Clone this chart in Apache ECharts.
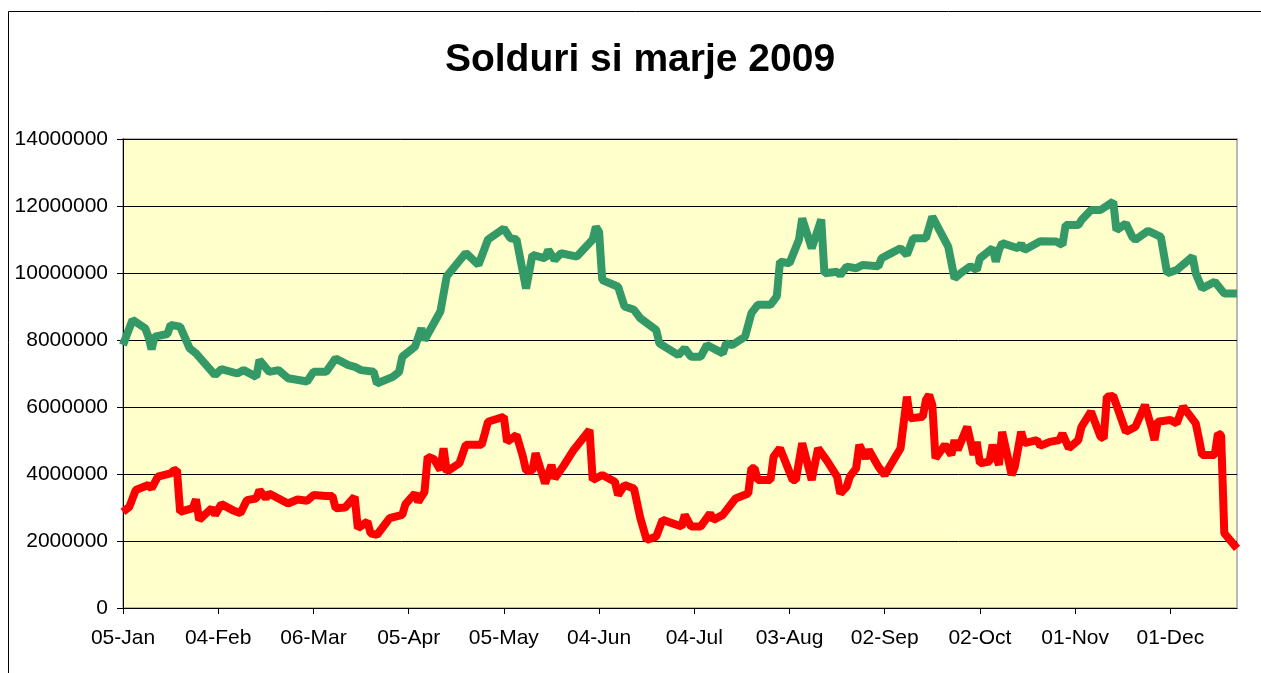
<!DOCTYPE html>
<html>
<head>
<meta charset="utf-8">
<title>Solduri si marje 2009</title>
<script src="https://cdn.jsdelivr.net/npm/echarts@6/dist/echarts.min.js"></script>
<style>
	html, body { margin: 0; padding: 0; background: #fff; }
	#chart { width: 1261px; height: 673px; }
</style>
</head>
<body>
<div id="chart"></div>
<script>
// zilele sunt numarate de la 05-Jan-2009
var startDate = Date.UTC(2009, 0, 5);
var lastDay = 351;
var tickDays = [0, 30, 60, 90, 120, 150, 180, 210, 240, 270, 300, 330];
var yTicks = [0, 2000000, 4000000, 6000000, 8000000, 10000000, 12000000, 14000000];

// solduri (verde)
var greenDays = [0, 3, 7, 8, 9, 10, 14, 15, 18, 21, 23, 29, 31, 36, 38, 42, 43, 46, 49, 52, 58, 60, 64, 67, 71, 73, 75, 79, 80, 85, 87, 88,
	92, 94, 95, 100, 102, 108, 112, 115, 120, 122, 124, 127, 129, 133, 134, 136, 138, 143, 148, 149, 150, 151, 156, 158, 161, 163, 168, 169,
	175, 177, 179, 182, 184, 189, 190, 192, 196, 198, 200, 204, 206, 207, 210, 213, 214, 217, 220, 221, 225, 226, 228, 231, 233, 238, 239,
	241, 245, 247, 249, 253, 255, 260, 262, 264, 267, 269, 270, 274, 275, 276, 277, 282, 283, 284, 289, 294, 296, 297, 301, 302, 305, 308,
	312, 313, 316, 318, 319, 323, 327, 329, 332, 337, 338, 340, 344, 347, 351];
var greenVals = [7.85, 8.6, 8.35, 8.1, 7.72, 8.1, 8.18, 8.45, 8.4, 7.75, 7.6, 6.95, 7.13, 7.0, 7.1, 6.9, 7.4, 7.05, 7.1, 6.86, 6.76, 7.05, 7.05, 7.45, 7.25, 7.2, 7.1, 7.05, 6.7, 6.9, 7.05, 7.5,
	7.8, 8.35, 8.0, 8.85, 9.9, 10.6, 10.24, 11.0, 11.33, 11.04, 11.0, 9.54, 10.54, 10.44, 10.69, 10.39, 10.59, 10.49, 11.0, 11.38, 11.23, 9.79, 9.59, 9.0, 8.9, 8.65, 8.3, 7.9,
	7.55, 7.75, 7.5, 7.5, 7.85, 7.6, 7.9, 7.85, 8.1, 8.8, 9.05, 9.05, 9.3, 10.34, 10.29, 11.0, 11.63, 10.74, 11.6, 9.99, 10.04, 9.94, 10.19, 10.14, 10.24, 10.2, 10.44,
	10.54, 10.74, 10.54, 11.04, 11.04, 11.68, 10.79, 9.84, 10.0, 10.2, 10.09, 10.44, 10.74, 10.34, 10.69, 10.89, 10.74, 10.87, 10.69, 10.95, 10.94, 10.84, 11.43, 11.43, 11.58, 11.88, 11.88,
	12.13, 11.28, 11.48, 11.08, 10.99, 11.26, 11.08, 9.99, 10.09, 10.49, 9.99, 9.54, 9.74, 9.39, 9.39];

// marje (rosu)
var redDays = [0, 2, 4, 8, 9, 11, 15, 16, 17, 18, 22, 23, 24, 28, 29, 31, 35, 37, 39, 42, 43, 45, 46, 52, 55, 58, 60, 64, 66, 67, 70, 73, 74, 77, 78, 80, 84, 88, 89,
	92, 93, 95, 96, 98, 100, 101, 102, 106, 108, 113, 114, 115, 120, 121, 124, 126, 127, 129, 130, 133, 135, 136, 139, 142, 147, 148, 151, 155, 156, 158, 161, 163, 165, 168, 170,
	176, 177, 179, 182, 185, 186, 189, 193, 197, 198, 199, 200, 204, 205, 207, 211, 212, 214, 217, 219, 222, 225, 226, 228, 229, 231, 232, 234, 235, 238, 240, 245, 247, 248,
	252, 253, 254, 255, 256, 259, 261, 262, 263, 266, 268, 269, 270, 273, 274, 276, 277, 280, 281, 283, 284, 288, 289, 292, 295, 296, 298, 301, 302, 305, 308, 309, 310, 312,
	316, 319, 322, 324, 325, 326, 330, 332, 334, 338, 339, 340, 344, 345, 346, 347, 351];
var redVals = [2.87, 3.02, 3.52, 3.67, 3.57, 3.92, 4.02, 4.1, 4.12, 2.87, 2.98, 3.24, 2.63, 2.98, 2.78, 3.1, 2.9, 2.83, 3.22, 3.27, 3.52, 3.27, 3.42, 3.12, 3.24, 3.2, 3.37, 3.34, 3.34, 2.98, 3.0, 3.32, 2.38, 2.58, 2.23, 2.18, 2.68, 2.78, 3.1,
	3.42, 3.17, 3.47, 4.52, 4.44, 4.12, 4.77, 4.07, 4.32, 4.87, 4.87, 5.21, 5.56, 5.71, 4.96, 5.16, 4.52, 4.1, 4.1, 4.62, 3.72, 4.27, 3.87, 4.27, 4.72, 5.31, 3.82, 3.97, 3.77, 3.37, 3.67, 3.57, 2.68, 2.03, 2.13, 2.63,
	2.43, 2.78, 2.43, 2.43, 2.83, 2.63, 2.78, 3.27, 3.42, 4.17, 4.17, 3.82, 3.82, 4.52, 4.77, 3.82, 3.82, 4.92, 3.82, 4.77, 4.37, 3.92, 3.42, 3.62, 3.92, 4.17, 4.87, 4.47, 4.72, 4.22, 3.97, 4.77, 6.31, 5.66,
	5.71, 6.21, 6.36, 6.06, 4.47, 4.87, 4.57, 5.01, 4.72, 5.41, 4.57, 4.96, 4.32, 4.37, 4.87, 4.27, 5.26, 3.97, 4.22, 5.26, 4.92, 5.01, 4.84, 4.96, 5.01, 5.21, 4.77, 5.01, 5.41, 5.86, 5.11, 5.06, 6.31, 6.33,
	5.26, 5.41, 6.06, 5.41, 5.01, 5.56, 5.61, 5.51, 6.01, 5.51, 5.06, 4.57, 4.57, 5.21, 5.16, 2.23, 1.78];

var months = ['Jan', 'Feb', 'Mar', 'Apr', 'May', 'Jun', 'Jul', 'Aug', 'Sep', 'Oct', 'Nov', 'Dec'];

function dayLabel(v) {
	var d = new Date(startDate + v * 86400000);
	var dd = d.getUTCDate();
	return (dd < 10 ? '0' + dd : '' + dd) + '-' + months[d.getUTCMonth()];
}

function pairs(days, vals) {
	var out = [];
	for (var i = 0; i < days.length; i++) {
		out.push([days[i], Math.round(vals[i] * 1000000)]);
	}
	return out;
}

var font = 'Liberation Sans, Arial, sans-serif';
var myChart = echarts.init(document.getElementById('chart'));
var option = {
	backgroundColor: '#fff',
	animation: false,
	title: {
		text: 'Solduri si marje 2009',
		left: 635,
		top: 36,
		textAlign: 'center',
		textStyle: { fontFamily: font, fontSize: 39, fontWeight: 'bold', color: '#000' }
	},
	graphic: [{
		type: 'rect',
		shape: { x: 8.5, y: 11.5, width: 1300, height: 700 },
		style: { fill: 'none', stroke: '#000', lineWidth: 1 },
		silent: true
	}],
	grid: {
		left: 123, top: 139, right: 24, bottom: 65,
		show: true,
		backgroundColor: '#FFFFCC',
		borderColor: '#b8b8b8',
		borderWidth: 2
	},
	xAxis: {
		type: 'value',
		min: 0,
		max: lastDay,
		interval: 30,
		axisLine: { show: true, onZero: false, lineStyle: { color: '#000', width: 1 } },
		axisTick: { show: true, length: 6, customValues: tickDays, lineStyle: { color: '#000' } },
		axisLabel: {
			customValues: tickDays,
			formatter: dayLabel,
			margin: 20,
			color: '#000',
			fontFamily: font,
			fontSize: 21
		},
		splitLine: { show: false }
	},
	yAxis: {
		type: 'value',
		min: 0,
		max: 14000000,
		interval: 2000000,
		axisLine: { show: true, lineStyle: { color: '#000', width: 1 } },
		axisTick: { show: true, length: 6, lineStyle: { color: '#000' } },
		axisLabel: {
			formatter: function (v) { return String(v); },
			margin: 15,
			color: '#000',
			fontFamily: font,
			fontSize: 21
		},
		splitLine: { show: true, lineStyle: { color: '#000', width: 1 } }
	},
	series: [
		{
			name: 'Solduri',
			type: 'line',
			data: pairs(greenDays, greenVals),
			showSymbol: false,
			lineStyle: { color: '#339966', width: 8 },
			itemStyle: { color: '#339966' }
		},
		{
			name: 'Marje',
			type: 'line',
			data: pairs(redDays, redVals),
			showSymbol: false,
			lineStyle: { color: '#FF0000', width: 8 },
			itemStyle: { color: '#FF0000' }
		}
	]
};
myChart.setOption(option);
</script>
</body>
</html>
